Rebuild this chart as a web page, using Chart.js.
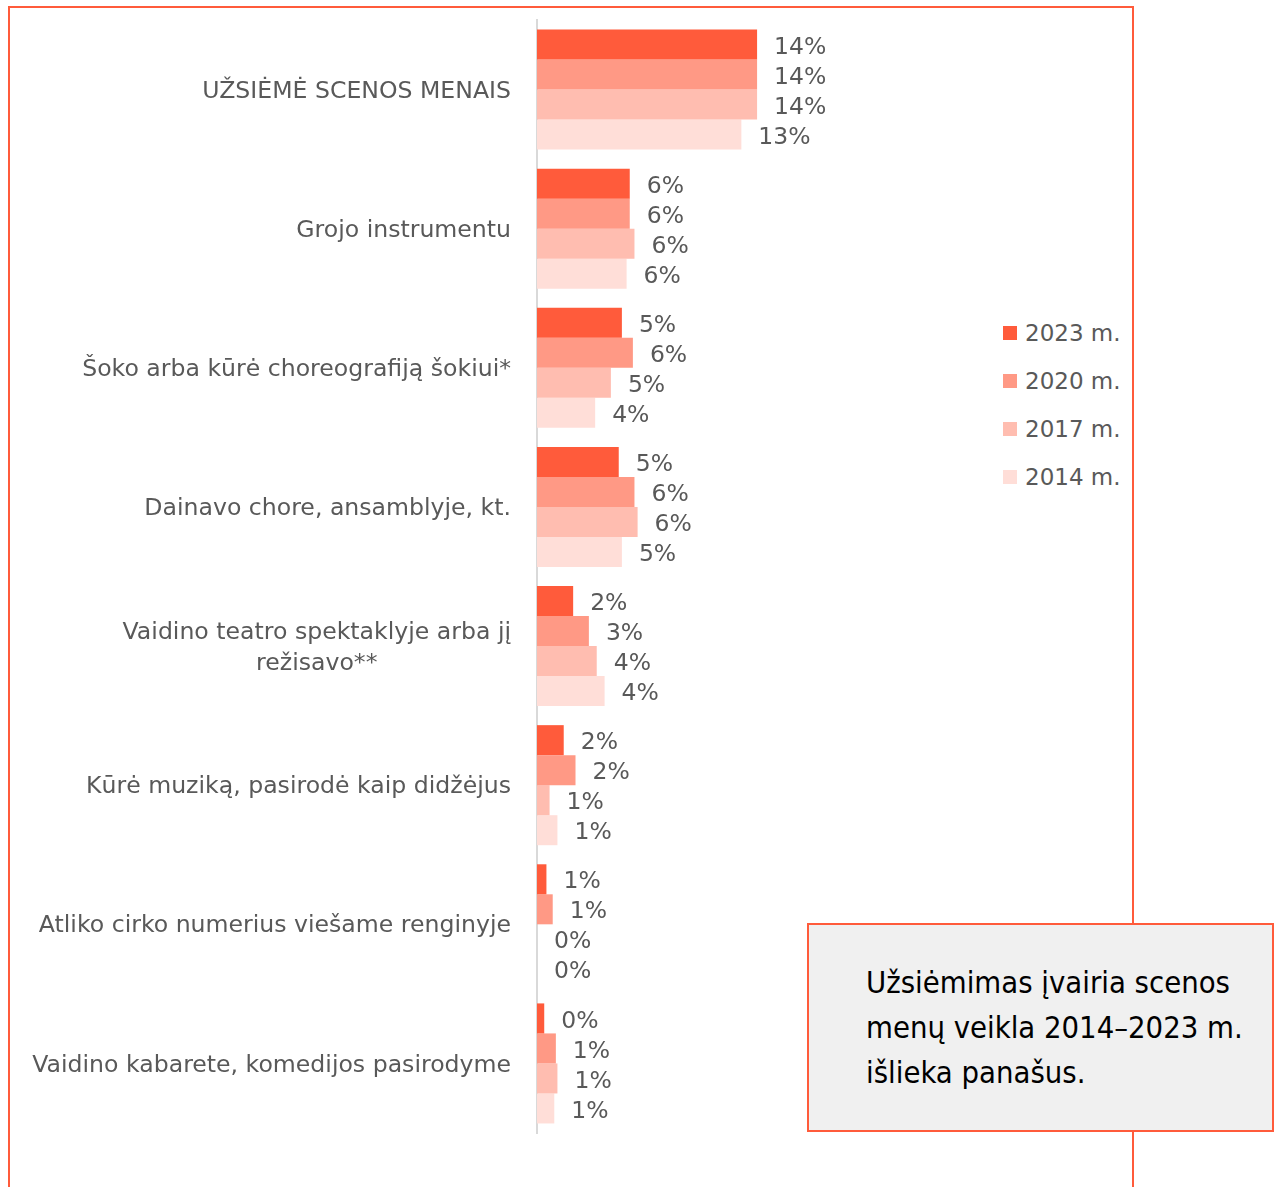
<!DOCTYPE html>
<html lang="lt">
<head>
<meta charset="utf-8">
<script src="https://cdn.jsdelivr.net/npm/chart.js@4"></script>
<style>
  html, body { margin: 0; padding: 0; background: #fff; overflow: hidden; }
  body { width: 1275px; height: 1187px; position: relative; font-family: "DejaVu Sans", sans-serif; }
  #remas { position: absolute; left: 8px; top: 6px; width: 1126px; height: 1300px; border: 2px solid #ff5b3b; box-sizing: border-box; }
  #grafikas { position: absolute; left: 0; top: 0; width: 1000px; height: 1187px; }
  #legenda { position: absolute; left: 1003px; top: 309px; }
  .leg-eil { display: flex; align-items: center; height: 48px; font-size: 23px; color: #595959; }
  .leg-kv { width: 14px; height: 14px; margin-right: 8px; }
  #isvada { position: absolute; left: 807px; top: 923px; width: 467px; height: 209px; box-sizing: border-box;
            background: #f0f0f0; border: 2px solid #ff5b3b; padding: 35px 5px 0 57px;
            font-family: "DejaVu Sans Condensed", "DejaVu Sans", sans-serif; font-size: 30.7px; line-height: 45px; color: #000; }
</style>
</head>
<body>
<div id="remas"></div>
<div id="grafikas"><canvas id="grafiko"></canvas></div>
<div id="legenda"></div>
<div id="isvada">Užsiėmimas įvairia scenos menų veikla 2014–2023 m. išlieka panašus.</div>
<script>
// kategorijos (eilutės)
const kategorijos = [
  'UŽSIĖMĖ SCENOS MENAIS',
  'Grojo instrumentu',
  'Šoko arba kūrė choreografiją šokiui*',
  'Dainavo chore, ansamblyje, kt.',
  ['Vaidino teatro spektaklyje arba jį', 'režisavo**'],
  'Kūrė muziką, pasirodė kaip didžėjus',
  'Atliko cirko numerius viešame renginyje',
  'Vaidino kabarete, komedijos pasirodyme'
]

// reikšmės procentais
const metai2023 = [14.0, 5.9, 5.4, 5.2, 2.3, 1.7, 0.6, 0.46]
const metai2020 = [14.0, 5.9, 6.1, 6.2, 3.3, 2.45, 1.0, 1.2]
const metai2017 = [14.0, 6.2, 4.7, 6.4, 3.8, 0.8, 0, 1.3]
const metai2014 = [13.0, 5.7, 3.7, 5.4, 4.3, 1.3, 0, 1.1]

const serijuPavadinimai = ['2023 m.', '2020 m.', '2017 m.', '2014 m.']
const spalvos = ['#ff5b3b', '#ff9985', '#ffbdb0', '#ffded8']
const serijos = [metai2023, metai2020, metai2017, metai2014]

const pilka = '#595959'
const sriftas = '"DejaVu Sans", sans-serif'

// legenda
const legenda = document.getElementById('legenda')
serijuPavadinimai.forEach((pav, i) => {
  const eil = document.createElement('div')
  eil.className = 'leg-eil'
  eil.innerHTML = `<span class="leg-kv" style="background:${spalvos[i]}"></span>${pav}`
  legenda.appendChild(eil)
})

// procentų etiketės prie stulpelių
const etiketes = {
  id: 'etiketes',
  afterDatasetsDraw(chart) {
    const ctx = chart.ctx
    ctx.save()
    ctx.font = '23.5px ' + sriftas
    ctx.fillStyle = pilka
    ctx.textAlign = 'left'
    ctx.textBaseline = 'middle'
    chart.data.datasets.forEach((ds, di) => {
      chart.getDatasetMeta(di).data.forEach((el, i) => {
        ctx.fillText(Math.round(ds.data[i]) + '%', el.x + 17, el.y + 3)
      })
    })
    ctx.restore()
  }
}

// kategorijų pavadinimai: blokas lygiuojamas dešinėje, eilutės centruojamos
const asiesTekstai = {
  id: 'asiesTekstai',
  afterDraw(chart) {
    const ctx = chart.ctx
    const y = chart.scales.y
    ctx.save()
    ctx.font = '23.6px ' + sriftas
    ctx.fillStyle = pilka
    ctx.textAlign = 'center'
    ctx.textBaseline = 'middle'
    kategorijos.forEach((k, i) => {
      const eil = Array.isArray(k) ? k : [k]
      const plotis = Math.max(...eil.map(t => ctx.measureText(t).width))
      const cx = y.right - 26 - plotis / 2
      const py = y.getPixelForValue(i) + 2
      eil.forEach((t, j) => {
        ctx.fillText(t, cx, py + (j - (eil.length - 1) / 2) * 31)
      })
    })
    ctx.restore()
  }
}

const grafikas = new Chart(document.getElementById('grafiko'), {
  type: 'bar',
  data: {
    labels: kategorijos,
    datasets: serijos.map((d, i) => ({
      label: serijuPavadinimai[i],
      data: d,
      backgroundColor: spalvos[i],
      borderWidth: 0,
      categoryPercentage: 0.863,
      barPercentage: 1
    }))
  },
  options: {
    indexAxis: 'y',
    responsive: true,
    maintainAspectRatio: false,
    animation: false,
    layout: { padding: { top: 20, bottom: 54, left: 0, right: 70 } },
    plugins: { legend: { display: false }, tooltip: { enabled: false } },
    scales: {
      x: { display: false, min: 0, max: 25 },
      y: {
        grid: { display: false },
        border: { display: true, color: '#d9d9d9', width: 2 },
        ticks: { display: false },
        afterFit: s => { s.width = 537 }
      }
    }
  },
  plugins: [etiketes, asiesTekstai]
})
</script>
</body>
</html>
